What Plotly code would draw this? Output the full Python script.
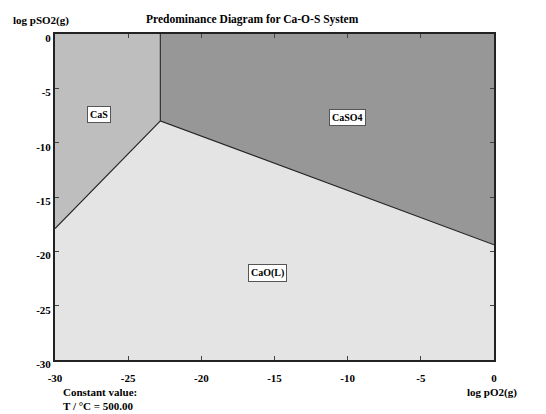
import plotly.graph_objects as go

# Boundary data (log pO2, log pSO2)
x_range = [-30, 0]
y_range = [-30, 0]
triple_x = -22.8
triple_y = -8.0
cas_cao_left_y = -17.9     # CaS/CaO boundary at log pO2 = -30
caso4_cao_right_y = -19.4  # CaSO4/CaO boundary at log pO2 = 0

regions = {
    "CaS": {
        "x": [x_range[0], triple_x, triple_x, x_range[0]],
        "y": [cas_cao_left_y, triple_y, y_range[1], y_range[1]],
        "color": "#bebebe",
    },
    "CaSO4": {
        "x": [triple_x, x_range[1], x_range[1], triple_x],
        "y": [triple_y, caso4_cao_right_y, y_range[1], y_range[1]],
        "color": "#979797",
    },
    "CaO(L)": {
        "x": [x_range[0], triple_x, x_range[1], x_range[1], x_range[0]],
        "y": [cas_cao_left_y, triple_y, caso4_cao_right_y, y_range[0], y_range[0]],
        "color": "#e4e4e4",
    },
}
label_pos = {"CaS": (-27.0, -7.4), "CaSO4": (-10.0, -7.7), "CaO(L)": (-15.5, -22.0)}

tick_vals = [-30, -25, -20, -15, -10, -5, 0]
tick_text = [str(v) for v in tick_vals]

FONT = "Liberation Serif"

fig = go.Figure()
for name, r in regions.items():
    fig.add_trace(go.Scatter(
        x=r["x"], y=r["y"], fill="toself", fillcolor=r["color"],
        mode="lines", line=dict(width=0), hoverinfo="skip", showlegend=False))

# boundary lines
fig.add_trace(go.Scatter(x=[x_range[0], triple_x, x_range[1]],
                         y=[cas_cao_left_y, triple_y, caso4_cao_right_y],
                         mode="lines", line=dict(color="#222222", width=1.2),
                         showlegend=False, hoverinfo="skip"))
fig.add_trace(go.Scatter(x=[triple_x, triple_x], y=[triple_y, y_range[1]],
                         mode="lines", line=dict(color="#333333", width=1.2),
                         showlegend=False, hoverinfo="skip"))

for name, (lx, ly) in label_pos.items():
    fig.add_annotation(x=lx, y=ly, text=f"<b>{name}</b>", showarrow=False,
                       font=dict(family=FONT, size=10, color="black"),
                       bgcolor="white", bordercolor="#555555", borderwidth=1, borderpad=2)

axis_common = dict(showgrid=False, zeroline=False, ticks="inside", ticklen=4,
                   tickwidth=1, tickcolor="#444444", mirror="allticks",
                   showline=True, linecolor="#222222", linewidth=2,
                   tickfont=dict(family=FONT, size=11, color="black"),
                   tickvals=tick_vals, ticktext=[f"<b>{t}</b>" for t in tick_text])

fig.update_xaxes(range=x_range, ticklabelstandoff=7, **axis_common)
fig.update_yaxes(range=y_range, ticklabelshift=4, **axis_common)

fig.add_annotation(xref="paper", yref="paper", x=0.5, xshift=-22, y=1.0, yshift=6,
                   xanchor="center", yanchor="bottom",
                   text="<b>Predominance Diagram for Ca-O-S System</b>", showarrow=False,
                   font=dict(family=FONT, size=11.5, color="black"))
fig.add_annotation(xref="paper", yref="paper", x=0, xshift=-44, y=1.0, yshift=5,
                   xanchor="left", yanchor="bottom",
                   text="<b>log pSO2(g)</b>", showarrow=False,
                   font=dict(family=FONT, size=11, color="black"))
fig.add_annotation(xref="paper", yref="paper", x=1.0, xshift=-2, y=0, yshift=-24,
                   xanchor="center", yanchor="top",
                   text="<b>log pO2(g)</b>", showarrow=False,
                   font=dict(family=FONT, size=11, color="black"))
fig.add_annotation(xref="paper", yref="paper", x=0, xshift=6, y=0, yshift=-24,
                   xanchor="left", yanchor="top", align="left",
                   text="<b>Constant value:</b><br><b>T / °C = 500.00</b>", showarrow=False,
                   font=dict(family=FONT, size=11, color="black"))

fig.update_layout(width=546, height=414,
                  margin=dict(l=55, r=52, t=34, b=54),
                  paper_bgcolor="white", plot_bgcolor="white")

fig.write_html("out.html")
